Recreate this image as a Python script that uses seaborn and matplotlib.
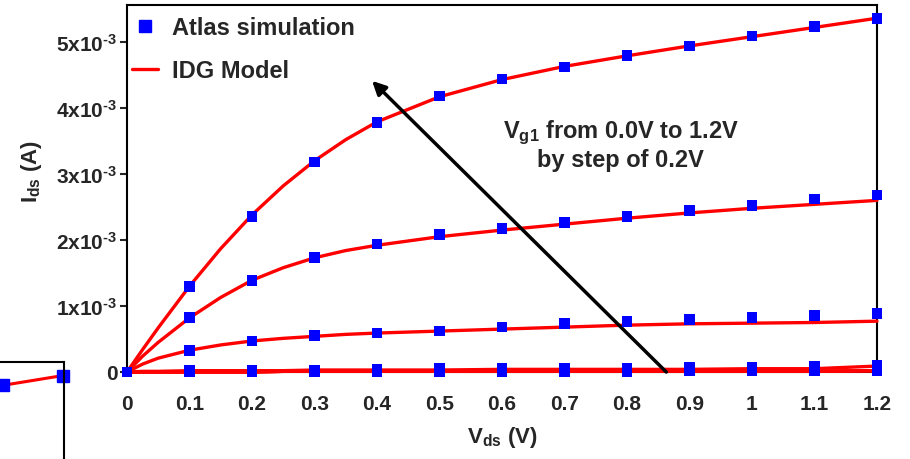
import numpy as np
import pandas as pd
import seaborn as sns
import matplotlib.pyplot as plt
from matplotlib.lines import Line2D

# Atlas simulation points (Ids in mA), Vds step 0.1 V
vds_atlas = [0.0, 0.1, 0.2, 0.3, 0.4, 0.5, 0.6, 0.7, 0.8, 0.9, 1.0, 1.1, 1.2]
atlas_vg12 = [0.0, 1.30, 2.36, 3.18, 3.78, 4.18, 4.44, 4.62, 4.79, 4.94, 5.09, 5.23, 5.35]
atlas_vg10 = [0.0, 0.82, 1.39, 1.74, 1.94, 2.08, 2.17, 2.27, 2.36, 2.45, 2.52, 2.62, 2.68]
atlas_vg08 = [0.0, 0.32, 0.47, 0.55, 0.59, 0.62, 0.68, 0.73, 0.76, 0.79, 0.82, 0.86, 0.89]
atlas_vg06 = [0.0, 0.02, 0.02, 0.03, 0.04, 0.05, 0.05, 0.05, 0.06, 0.07, 0.07, 0.08, 0.10]
atlas_vg04 = [0.0, 0.0, 0.0, 0.0, 0.01, 0.01, 0.01, 0.01, 0.01, 0.02, 0.02, 0.02, 0.02]

# IDG model curves (Ids in mA)
vds_model = [0.0, 0.025, 0.05, 0.1, 0.15, 0.2, 0.25, 0.3, 0.35, 0.4, 0.5, 0.6, 0.7, 0.8, 0.9, 1.0, 1.1, 1.2]
model_vg12 = [0.0, 0.34, 0.67, 1.30, 1.87, 2.38, 2.82, 3.20, 3.52, 3.79, 4.17, 4.43, 4.63, 4.79, 4.94, 5.08, 5.22, 5.36]
model_vg10 = [0.0, 0.24, 0.45, 0.82, 1.13, 1.39, 1.58, 1.73, 1.84, 1.92, 2.05, 2.15, 2.24, 2.33, 2.41, 2.48, 2.54, 2.60]
model_vg08 = [0.0, 0.12, 0.21, 0.33, 0.41, 0.47, 0.51, 0.54, 0.57, 0.59, 0.62, 0.65, 0.68, 0.71, 0.73, 0.74, 0.75, 0.77]
model_vg06 = [0.0, 0.01, 0.01, 0.02, 0.02, 0.02, 0.02, 0.03, 0.03, 0.03, 0.03, 0.04, 0.04, 0.04, 0.04, 0.05, 0.05, 0.09]
model_vg04 = [0.0, 0.0, 0.0, 0.0, 0.0, 0.0, 0.01, 0.01, 0.01, 0.01, 0.01, 0.01, 0.01, 0.01, 0.01, 0.01, 0.01, 0.02]

yticks_mA = [0, 1, 2, 3, 4, 5]
ytick_labels = ['0', r'1x10$^{\text{-3}}$', r'2x10$^{\text{-3}}$', r'3x10$^{\text{-3}}$',
                r'4x10$^{\text{-3}}$', r'5x10$^{\text{-3}}$']
xticks = [0, 0.1, 0.2, 0.3, 0.4, 0.5, 0.6, 0.7, 0.8, 0.9, 1.0, 1.1, 1.2]
xtick_labels = ['0', '0.1', '0.2', '0.3', '0.4', '0.5', '0.6', '0.7', '0.8', '0.9', '1', '1.1', '1.2']

# piece of the neighbouring panel visible at bottom-left
frag_x = [0.05, 0.98]
frag_y = [0.76, 0.86]

sns.set_style('ticks')
plt.rcParams['font.family'] = ['Liberation Sans', 'DejaVu Sans']
plt.rcParams['font.weight'] = 'bold'
plt.rcParams['mathtext.fontset'] = 'custom'
plt.rcParams['mathtext.rm'] = 'Liberation Sans:bold'
plt.rcParams['mathtext.bf'] = 'Liberation Sans:bold'
plt.rcParams['mathtext.it'] = 'Liberation Sans:bold'
plt.rcParams['mathtext.default'] = 'bf'

atlas_df = pd.concat([
    pd.DataFrame({'Vds': vds_atlas, 'Ids': np.array(v) * 1e-3, 'Vg': g})
    for g, v in [(1.2, atlas_vg12), (1.0, atlas_vg10), (0.8, atlas_vg08),
                 (0.6, atlas_vg06), (0.4, atlas_vg04), (0.2, atlas_vg04), (0.0, atlas_vg04)]
])
model_df = pd.concat([
    pd.DataFrame({'Vds': vds_model, 'Ids': np.array(v) * 1e-3, 'Vg': g})
    for g, v in [(1.2, model_vg12), (1.0, model_vg10), (0.8, model_vg08),
                 (0.6, model_vg06), (0.4, model_vg04), (0.2, model_vg04), (0.0, model_vg04)]
])

fig = plt.figure(figsize=(9.1, 4.6), dpi=100)
ax = fig.add_axes([127 / 910, 1 - 373 / 460, 750 / 910, 367 / 460])

sns.lineplot(data=model_df, x='Vds', y='Ids', units='Vg', estimator=None, sort=False,
             color='red', lw=2.4, ax=ax, legend=False, clip_on=False, zorder=3)
sns.scatterplot(data=atlas_df, x='Vds', y='Ids', marker='s', color='blue', s=60,
                edgecolor='none', ax=ax, legend=False, clip_on=False, zorder=5)

ax.set_xlim(0, 1.2)
ax.set_ylim(0, 5.56e-3)
ax.set_xticks(xticks)
ax.set_xticklabels(xtick_labels)
ax.set_yticks(np.array(yticks_mA) * 1e-3)
ax.set_yticklabels(ytick_labels)
ax.tick_params(axis='x', length=0, pad=16, labelsize=15)
ax.tick_params(axis='y', direction='out', length=5, width=1.5, pad=2, labelsize=15)
for sp in ax.spines.values():
    sp.set_linewidth(1.5)
    sp.set_color('black')
    sp.set_visible(True)

ax.set_xlabel(r'V$_{ds}$ (V)', fontsize=16, fontweight='bold', labelpad=8)
ax.set_ylabel(r'I$_{ds}$ (A)', fontsize=16, fontweight='bold')
ax.yaxis.set_label_coords(-0.111, 0.55)

handles = [Line2D([], [], marker='s', ls='', color='blue', markersize=8),
           Line2D([], [], color='red', lw=2.4)]
ax.legend(handles, ['Atlas simulation', 'IDG Model'], loc='upper left', frameon=False,
          handlelength=1.1, handletextpad=0.6, labelspacing=0.85,
          bbox_to_anchor=(-0.022, 1.027), prop={'weight': 'bold', 'size': 17})

ax.annotate('', xy=(0.389, 4.44e-3), xytext=(0.866, -0.03e-3),
            arrowprops=dict(arrowstyle='-|>', lw=2.5, color='black', mutation_scale=20),
            annotation_clip=False)
ax.text(0.79, 3.45e-3, 'V$_{g1}$ from 0.0V to 1.2V\nby step of 0.2V', ha='center', va='center',
        fontsize=17, fontweight='bold', multialignment='center', linespacing=1.15)

# fragment of the adjacent chart
ax2 = fig.add_axes([0.0, 0.0, 64 / 910, 97 / 460])
ax2.plot(frag_x, frag_y, color='red', lw=2.2, clip_on=False)
ax2.plot(frag_x, frag_y, ls='', marker='s', color='blue', markersize=8, clip_on=False)
ax2.set_xlim(0, 1)
ax2.set_ylim(0, 1)
ax2.set_xticks([])
ax2.set_yticks([])
ax2.spines['left'].set_visible(False)
ax2.spines['bottom'].set_visible(False)
for s in ['top', 'right']:
    ax2.spines[s].set_linewidth(1.5)
    ax2.spines[s].set_color('black')

fig.savefig('out.png', dpi=100)
